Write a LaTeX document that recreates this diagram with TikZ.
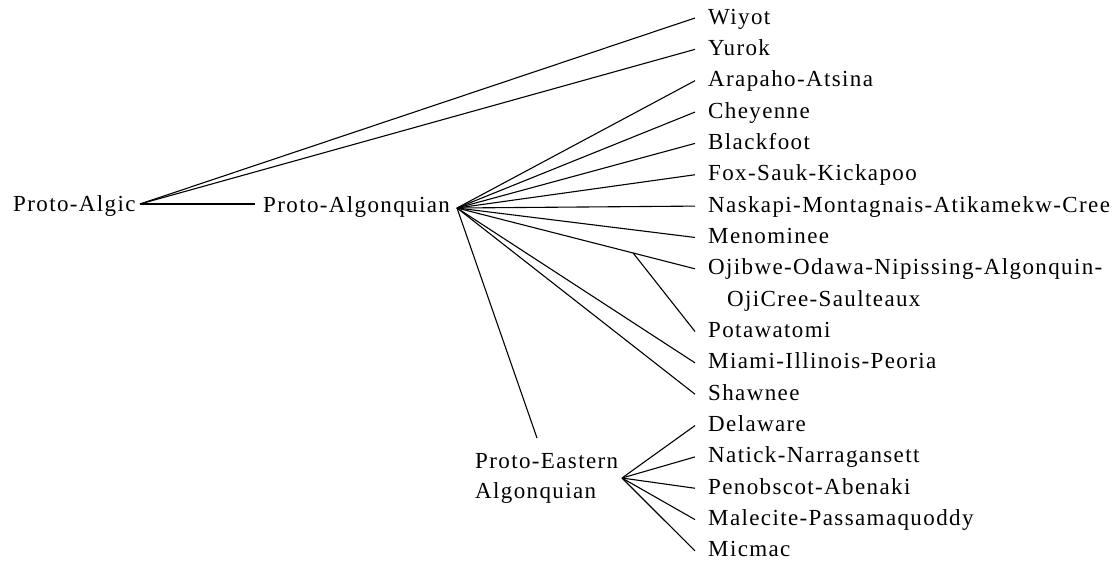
\documentclass[tikz,border=0pt]{standalone}
\usepackage{fontspec}
\setmainfont{Liberation Serif}[LetterSpace=6]
\usetikzlibrary{calc}
\begin{document}
\begin{tikzpicture}[x=1pt,y=-1pt,
  lbl/.style={inner sep=0pt,anchor=base west,font=\fontsize{23}{31.35}\selectfont},
  link/.style={draw=black,line width=1.1pt}]
\useasboundingbox (0,0) rectangle (1117,563);
% roots
\node[lbl] (algic) at (13,211) {Proto-Algic};
\node[lbl] (algq) at (263,212) {Proto-Algonquian};
\node[lbl,align=left,font=\fontsize{23}{30}\selectfont] (pea) at (475,498) {Proto-Eastern\\Algonquian};
\coordinate (algicR) at (140,204);
\coordinate (algqL) at (255,204);
\coordinate (pahub) at (457,208);
\coordinate (peatop) at (537,438);
\coordinate (peahub) at (622,478);
% leaves
\foreach \i/\n/\t in {0/wiyot/Wiyot,1/yurok/Yurok,2/arap/Arapaho-Atsina,3/chey/Cheyenne,
  4/black/Blackfoot,5/fox/Fox-Sauk-Kickapoo,6/nask/Naskapi-Montagnais-Atikamekw-Cree,
  7/meno/Menominee,10/pota/Potawatomi,11/miami/Miami-Illinois-Peoria,12/shaw/Shawnee,
  13/dela/Delaware,14/nati/Natick-Narragansett,15/peno/Penobscot-Abenaki,
  16/male/Malecite-Passamaquoddy,17/micm/Micmac}{
  \node[lbl] (\n) at (708,24+31.35*\i) {\t};
  \coordinate (\n-e) at ([shift={(-13,-6)}]\n.base west);
}
\node[lbl,align=left] (ojib) at (708,24+31.35*9) {Ojibwe-Odawa-Nipissing-Algonquin-\\\hspace*{19pt}OjiCree-Saulteaux};
\coordinate (ojib-e) at (695,24+31.35*8-6);
\coordinate (ojibbr) at ($(pahub)!0.74!(ojib-e)$);
% connectors
\draw[link] (algicR) -- (wiyot-e);
\draw[link] (algicR) -- (yurok-e);
\draw[link] (algicR) -- (algqL);
\foreach \n in {arap,chey,black,fox,nask,meno,ojib,miami,shaw}{
  \draw[link] (pahub) -- (\n-e);
}
\draw[link] (ojibbr) -- (pota-e);
\draw[link] (pahub) -- (peatop);
\foreach \n in {dela,nati,peno,male,micm}{
  \draw[link] (peahub) -- (\n-e);
}
\end{tikzpicture}
\end{document}
